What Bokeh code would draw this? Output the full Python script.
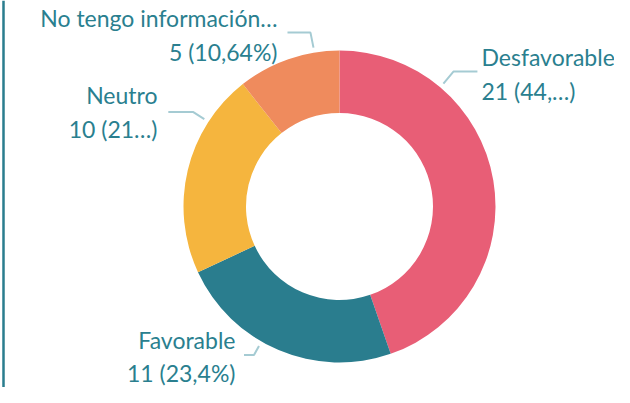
import math
from bokeh.plotting import figure
from bokeh.models import Range1d
from bokeh.core.properties import value
from bokeh.embed import file_html
from bokeh.resources import INLINE

# ---- data ----
categories = ["Desfavorable", "Favorable", "Neutro", "No tengo información…"]
counts = [21, 11, 10, 5]
value_labels = ["21 (44,…)", "11 (23,4%)", "10 (21…)", "5 (10,64%)"]
colors = ["#E85E76", "#2A7D8E", "#F5B53E", "#EF8B5D"]

# ---- layout (pixels, y up) ----
W, H = 614, 387
CX, CY = 339, 181
R_OUT, R_IN = 156, 93.5
TEXT_COLOR = "#2A7F8F"
LEADER_COLOR = "#A5CBD3"
FONT = "Lato"
FS = "23px"
TEXT_DY = 9  # compensate baseline rendering offset

# label layout: (leader angle deg, elbow dx, elbow dy, horiz length, text x, line1 y, line2 y, align)
label_layout = [
    (49.8, 10, 12, 24, 481, 322, 288, "left"),
    (-120.0, -5, -9, -10, 235, 39, 6, "right"),
    (147.1, -11, 7, -25, 157, 284, 250, "right"),
    (99.3, -3, 15, -23, 277, 361, 327, "right"),
]

p = figure(width=W, height=H, x_range=Range1d(0, W), y_range=Range1d(0, H),
           output_backend="svg", toolbar_location=None, min_border=0)
p.axis.visible = False
p.grid.visible = False
p.outline_line_color = None
p.background_fill_color = "white"

total = sum(counts)
starts, ends = [], []
cum = 0
for c in counts:
    starts.append(math.pi / 2 - 2 * math.pi * cum / total)
    cum += c
    ends.append(math.pi / 2 - 2 * math.pi * cum / total)

p.annular_wedge(x=[CX] * len(counts), y=[CY] * len(counts), inner_radius=R_IN, outer_radius=R_OUT,
                start_angle=starts, end_angle=ends, direction="clock",
                fill_color=colors, line_color=None)

# left border line
p.line(x=[3, 3], y=[0, H], line_color="#2A7D8E", line_width=2.5)

for i, (ang, edx, edy, hl, tx, y1, y2, align) in enumerate(label_layout):
    a = math.radians(ang)
    sx0 = CX + 161 * math.cos(a)
    sy0 = CY + 161 * math.sin(a)
    ex, ey = sx0 + edx, sy0 + edy
    p.line(x=[sx0, ex, ex + hl], y=[sy0, ey, ey], line_color=LEADER_COLOR, line_width=2)
    p.text(x=[tx, tx], y=[y1 + TEXT_DY, y2 + TEXT_DY], text=[categories[i], value_labels[i]],
           text_font=value(FONT), text_font_size=FS, text_color=TEXT_COLOR,
           text_align=align, text_baseline="alphabetic")

open("out.html", "w").write(file_html(p, INLINE))
